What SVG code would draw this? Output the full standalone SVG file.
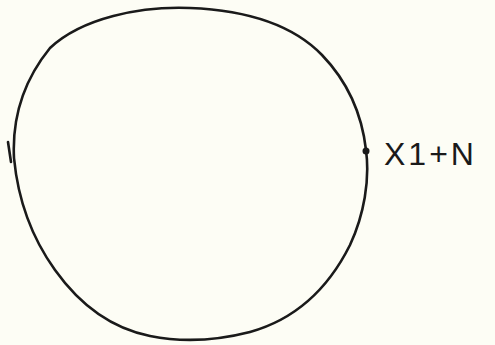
<svg xmlns="http://www.w3.org/2000/svg" width="495" height="345" viewBox="0 0 495 345">
<style>
.stroke{fill:none;stroke:#1a1a1a;stroke-width:2.6;stroke-linecap:round;stroke-linejoin:round}
.lbl{font-family:"Liberation Sans",Arial,sans-serif;font-size:32px;fill:#1a1a1a;letter-spacing:3px}
</style>
<rect width="495" height="345" fill="#fdfdf5"/>
<g id="circle">
<path class="stroke" d="M14,158 C12,118 24,80 50,48 C82,18 140,6 190,8 C240,10 290,22 322,55 C348,82 362,115 366,150 C370,180 364,215 350,245 C330,285 300,318 250,332 C215,341 180,342 150,336 C110,328 80,305 55,270 C32,238 18,200 14,158"/>
<path class="stroke" d="M8,142 L11,162"/>
</g>
<g id="point">
<circle cx="366" cy="151" r="3.5" fill="#1a1a1a"/>
<text class="lbl" x="384" y="165">X1+N</text>
</g>
</svg>
